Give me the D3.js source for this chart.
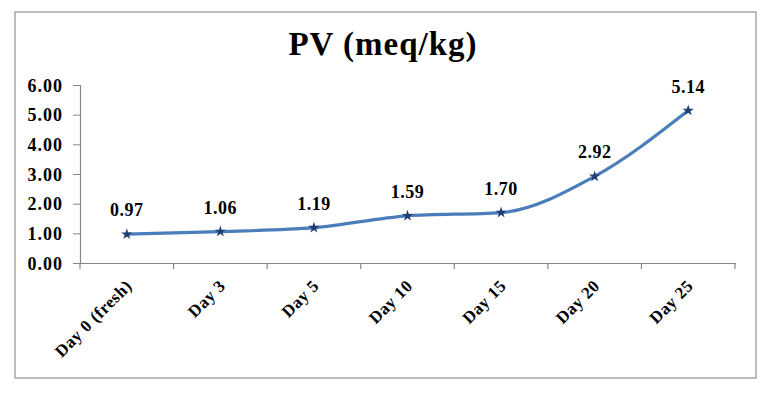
<!DOCTYPE html>
<html><head><meta charset="utf-8">
<script src="https://cdn.jsdelivr.net/npm/d3@7"></script>
<style>body{margin:0;background:#fff}svg{display:block}</style>
</head><body>
<script>
const categories = ["Day 0 (fresh)", "Day 3", "Day 5", "Day 10", "Day 15", "Day 20", "Day 25"];
const pvValues = [0.97, 1.06, 1.19, 1.59, 1.70, 2.92, 5.14];
const yTicks = [0, 1, 2, 3, 4, 5, 6];
const titleText = "PV (meq/kg)";

const W = 768, H = 395;
const font = "'Liberation Serif', 'DejaVu Serif', serif";
const svg = d3.select("body").append("svg").attr("width", W).attr("height", H);
svg.append("rect").attr("width", W).attr("height", H).attr("fill", "#fff");
svg.append("rect").attr("x", 15).attr("y", 12).attr("width", 741).attr("height", 366)
  .attr("fill", "none").attr("stroke", "#a6a6a6").attr("stroke-width", 1.5);

svg.append("text").attr("x", 383).attr("y", 55).attr("text-anchor", "middle")
  .attr("font-family", font).attr("font-weight", "bold").attr("font-size", 33)
  .attr("letter-spacing", 1).attr("fill", "#000").text(titleText);

const x = d3.scaleBand().domain(categories).range([80, 735]);
const y = d3.scaleLinear().domain([0, 6]).range([263, 85]);

const yAxis = svg.append("g").attr("transform", "translate(80,0)")
  .call(d3.axisLeft(y).tickValues(yTicks).tickFormat(d3.format(".2f")).tickSize(7).tickPadding(10));
yAxis.select(".domain").attr("stroke", "#868686").attr("stroke-width", 1.2);
yAxis.selectAll(".tick line").attr("stroke", "#868686");
yAxis.selectAll("text").attr("font-family", font).attr("font-weight", "bold").attr("font-size", 18)
  .attr("letter-spacing", 1).attr("dy", "0.35em").attr("fill", "#000");

const xAxis = svg.append("g").attr("transform", "translate(0,263)")
  .call(d3.axisBottom(x).tickSize(0).tickSizeOuter(0));
xAxis.select(".domain").attr("stroke", "#868686").attr("stroke-width", 1.2);
xAxis.selectAll(".tick line").remove();
const bounds = categories.map(c => x(c)).concat([x.range()[1]]);
svg.append("g").selectAll("line").data(bounds).join("line")
  .attr("x1", d => d).attr("x2", d => d).attr("y1", 263).attr("y2", 269)
  .attr("stroke", "#868686").attr("stroke-width", 1.2);
xAxis.selectAll("text")
  .attr("font-family", font).attr("font-weight", "bold").attr("font-size", 17).attr("letter-spacing", 0.5)
  .attr("fill", "#000")
  .attr("text-anchor", "end").attr("dy", null).attr("y", 0)
  .attr("transform", "translate(6,24) rotate(-45)");

const cx = d => x(d) + x.bandwidth() / 2;
const line = d3.line().x((d, i) => cx(categories[i])).y(d => y(d)).curve(d3.curveMonotoneX);
svg.append("path").datum(pvValues).attr("d", line)
  .attr("fill", "none").attr("stroke", "#4A7EBB").attr("stroke-width", 3.2);

svg.append("g").selectAll("path").data(pvValues).join("path")
  .attr("d", d3.symbol().type(d3.symbolStar).size(40))
  .attr("transform", (d, i) => `translate(${cx(categories[i])},${y(d)})`)
  .attr("fill", "#1F3F73");

svg.append("g").selectAll("text").data(pvValues).join("text")
  .attr("x", (d, i) => cx(categories[i])).attr("y", d => y(d) - 18)
  .attr("text-anchor", "middle").attr("font-family", font).attr("font-weight", "bold")
  .attr("font-size", 18).attr("letter-spacing", 0.5).attr("fill", "#000").text(d => d.toFixed(2));
</script>
</body></html>
